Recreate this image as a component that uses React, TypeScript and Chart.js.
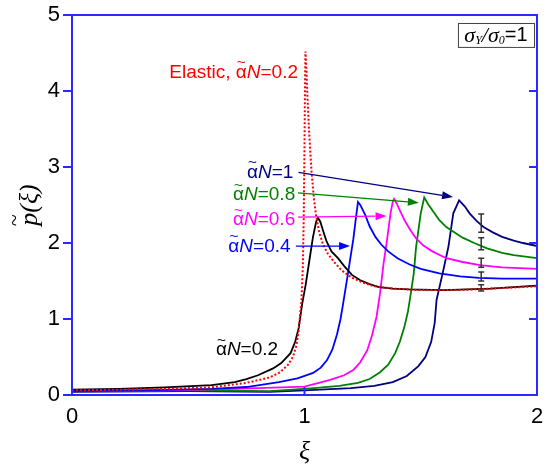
import React, { useEffect, useRef } from "react";
import { Chart, registerables } from "chart.js";

Chart.register(...registerables);

// ---------- data ----------
const xTickValues = [0, 1, 2];
const yTickValues = [0, 1, 2, 3, 4, 5];

const elasticX = [0, 0.2, 0.4, 0.6, 0.75, 0.85, 0.895, 0.93, 0.95, 0.965, 0.975, 0.987, 0.993, 0.997, 1.0, 1.002, 1.004, 1.008, 1.013, 1.02, 1.03, 1.04, 1.05, 1.065, 1.08, 1.1, 1.13, 1.16, 1.2, 1.25, 1.3, 1.38, 1.5, 1.65, 1.8, 2.0];
const elasticY = [0.06, 0.07, 0.08, 0.1, 0.16, 0.23, 0.3, 0.4, 0.5, 0.65, 0.85, 1.25, 1.7, 2.4, 3.3, 4.0, 4.52, 4.3, 3.9, 3.45, 2.95, 2.6, 2.35, 2.12, 1.98, 1.86, 1.74, 1.64, 1.55, 1.48, 1.43, 1.4, 1.38, 1.38, 1.4, 1.43];

const n02X = [0, 0.2, 0.4, 0.6, 0.7, 0.75, 0.8, 0.865, 0.9, 0.94, 0.96, 0.975, 0.99, 1.005, 1.02, 1.036, 1.05, 1.058, 1.068, 1.08, 1.095, 1.116, 1.144, 1.17, 1.204, 1.24, 1.28, 1.32, 1.38, 1.45, 1.6, 1.8, 2.0];
const n02Y = [0.07, 0.08, 0.1, 0.13, 0.17, 0.21, 0.26, 0.35, 0.42, 0.55, 0.7, 0.88, 1.2, 1.45, 1.75, 2.07, 2.28, 2.33, 2.28, 2.16, 2.02, 1.89, 1.8, 1.7, 1.58, 1.51, 1.46, 1.42, 1.4, 1.39, 1.38, 1.4, 1.44];

const n04X = [0, 0.3, 0.6, 0.75, 0.89, 0.97, 1.037, 1.07, 1.097, 1.12, 1.14, 1.155, 1.166, 1.187, 1.21, 1.222, 1.23, 1.24, 1.25, 1.261, 1.28, 1.305, 1.33, 1.36, 1.4, 1.45, 1.5, 1.58, 1.67, 1.75, 1.85, 2.0];
const n04Y = [0.05, 0.06, 0.08, 0.105, 0.17, 0.22, 0.29, 0.36, 0.46, 0.6, 0.8, 1.0, 1.2, 1.6, 2.05, 2.35, 2.54, 2.5, 2.44, 2.37, 2.22, 2.08, 1.98, 1.89, 1.8, 1.72, 1.66, 1.6, 1.56, 1.54, 1.53, 1.53];

const n06X = [0, 0.4, 0.7, 1.0, 1.11, 1.17, 1.21, 1.24, 1.27, 1.29, 1.31, 1.325, 1.34, 1.355, 1.37, 1.38, 1.385, 1.395, 1.41, 1.43, 1.455, 1.48, 1.51, 1.55, 1.61, 1.68, 1.755, 1.85, 2.0];
const n06Y = [0.05, 0.06, 0.08, 0.11, 0.2, 0.26, 0.33, 0.43, 0.59, 0.78, 1.03, 1.34, 1.73, 2.04, 2.39, 2.55, 2.58, 2.53, 2.43, 2.3, 2.17, 2.06, 1.97, 1.89, 1.8, 1.75, 1.71, 1.68, 1.66];

const n08X = [0, 0.5, 0.85, 0.95, 1.04, 1.15, 1.23, 1.28, 1.325, 1.36, 1.39, 1.41, 1.43, 1.445, 1.455, 1.47, 1.48, 1.5, 1.515, 1.53, 1.55, 1.58, 1.61, 1.68, 1.73, 1.785, 1.85, 1.9, 2.0];
const n08Y = [0.05, 0.06, 0.05, 0.07, 0.09, 0.12, 0.16, 0.21, 0.3, 0.4, 0.55, 0.7, 0.9, 1.1, 1.29, 1.6, 1.95, 2.39, 2.6, 2.52, 2.43, 2.3, 2.21, 2.07, 2.0, 1.93, 1.87, 1.84, 1.8];

const n10X = [0, 0.5, 0.85, 1.0, 1.2, 1.3, 1.38, 1.44, 1.49, 1.52, 1.545, 1.56, 1.568, 1.597, 1.619, 1.64, 1.665, 1.69, 1.71, 1.74, 1.77, 1.81, 1.85, 1.9, 1.94, 2.0];
const n10Y = [0.04, 0.05, 0.04, 0.06, 0.09, 0.12, 0.17, 0.25, 0.38, 0.5, 0.7, 0.95, 1.25, 1.64, 1.95, 2.39, 2.56, 2.48, 2.39, 2.29, 2.21, 2.14, 2.08, 2.03, 2.0, 1.96];

// error bars (x position, centres, half ranges) for αN = 1, 0.8, 0.6, 0.4, 0.2
const errX = [1.76, 1.76, 1.76, 1.76, 1.76];
const errCenter = [2.26, 1.99, 1.74, 1.56, 1.41];
const errHalf = [0.12, 0.08, 0.06, 0.06, 0.04];

// ---------- styles ----------
const AXIS = "#2a2aff";
const SANS = '"Liberation Sans", Arial, sans-serif';
const SERIF = '"Liberation Serif", "Times New Roman", serif';

const seriesList = [
  { name: "Elastic", xs: elasticX, ys: elasticY, color: "#ff0000", dash: [2, 2] },
  { name: "0.2", xs: n02X, ys: n02Y, color: "#000000", dash: [] },
  { name: "0.4", xs: n04X, ys: n04Y, color: "#0000ff", dash: [] },
  { name: "0.6", xs: n06X, ys: n06Y, color: "#ff00ff", dash: [] },
  { name: "0.8", xs: n08X, ys: n08Y, color: "#008000", dash: [] },
  { name: "1", xs: n10X, ys: n10Y, color: "#000080", dash: [] },
];

type Seg = { t: string; italic?: boolean; tilde?: boolean };
const alphaN = (v: string): Seg[] => [{ t: "α", tilde: true }, { t: "N", italic: true }, { t: "=" + v }];

const labels = [
  { segs: [{ t: "Elastic, " }, ...alphaN("0.2")], color: "#ff0000", x: 0.972, y: 4.24, align: "right" },
  { segs: alphaN("1"), color: "#000080", x: 0.952, y: 2.93, align: "right" },
  { segs: alphaN("0.8"), color: "#008000", x: 0.96, y: 2.63, align: "right" },
  { segs: alphaN("0.6"), color: "#ff00ff", x: 0.96, y: 2.30, align: "right" },
  { segs: alphaN("0.4"), color: "#0000ff", x: 0.94, y: 1.95, align: "right" },
  { segs: alphaN("0.2"), color: "#000000", x: 0.619, y: 0.59, align: "left" },
];

const arrows = [
  { from: [0.974, 2.93], to: [1.639, 2.605], color: "#000080" },
  { from: [0.972, 2.66], to: [1.492, 2.53], color: "#008000" },
  { from: [0.972, 2.34], to: [1.353, 2.355], color: "#ff00ff" },
  { from: [0.963, 1.96], to: [1.196, 1.96], color: "#0000ff" },
];

const sigmaBox = { x1: 1.66, x2: 1.987, y1: 4.895, y2: 4.58 };

function drawSegs(ctx: CanvasRenderingContext2D, segs: Seg[], x: number, y: number, align: string, color: string, size: number) {
  const fontOf = (s: Seg) => `${s.italic ? "italic " : ""}${size}px ${SANS}`;
  let total = 0;
  const widths = segs.map((s) => {
    ctx.font = fontOf(s);
    const w = ctx.measureText(s.t).width;
    total += w;
    return w;
  });
  let cx = align === "right" ? x - total : align === "center" ? x - total / 2 : x;
  ctx.fillStyle = color;
  ctx.textBaseline = "middle";
  ctx.textAlign = "left";
  segs.forEach((s, i) => {
    ctx.font = fontOf(s);
    ctx.fillText(s.t, cx, y);
    if (s.tilde) {
      ctx.font = `${size * 0.8}px ${SANS}`;
      const tw = ctx.measureText("~").width;
      ctx.fillText("~", cx + widths[i] / 2 - tw / 2, y - size * 0.5);
    }
    cx += widths[i];
  });
}

const overlayPlugin = {
  id: "overlay",
  afterDatasetsDraw(chart: any) {
    const { ctx, chartArea: a, scales } = chart;
    const xs = scales.x;
    const ys = scales.y;
    const X = (v: number) => xs.getPixelForValue(v);
    const Y = (v: number) => ys.getPixelForValue(v);
    ctx.save();

    // error bars
    ctx.strokeStyle = "#333333";
    ctx.lineWidth = 1.5;
    errX.forEach((ex, i) => {
      const px = X(ex);
      const top = Y(errCenter[i] + errHalf[i]);
      const bot = Y(errCenter[i] - errHalf[i]);
      ctx.beginPath();
      ctx.moveTo(px, top); ctx.lineTo(px, bot);
      ctx.moveTo(px - 3, top); ctx.lineTo(px + 3, top);
      ctx.moveTo(px - 3, bot); ctx.lineTo(px + 3, bot);
      ctx.stroke();
    });

    // arrows
    arrows.forEach((ar) => {
      const x0 = X(ar.from[0]), y0 = Y(ar.from[1]);
      const x1 = X(ar.to[0]), y1 = Y(ar.to[1]);
      const ang = Math.atan2(y1 - y0, x1 - x0);
      const L = 11, W = 4;
      const bx = x1 - L * Math.cos(ang), by = y1 - L * Math.sin(ang);
      ctx.strokeStyle = ar.color;
      ctx.fillStyle = ar.color;
      ctx.lineWidth = 1.3;
      ctx.beginPath();
      ctx.moveTo(x0, y0); ctx.lineTo(bx, by);
      ctx.stroke();
      ctx.beginPath();
      ctx.moveTo(x1, y1);
      ctx.lineTo(bx + W * Math.sin(ang), by - W * Math.cos(ang));
      ctx.lineTo(bx - W * Math.sin(ang), by + W * Math.cos(ang));
      ctx.closePath();
      ctx.fill();
    });

    // labels
    labels.forEach((lb) => drawSegs(ctx, lb.segs as Seg[], X(lb.x), Y(lb.y), lb.align, lb.color, 19));

    // sigma box
    const bx1 = X(sigmaBox.x1), bx2 = X(sigmaBox.x2), by1 = Y(sigmaBox.y1), by2 = Y(sigmaBox.y2);
    ctx.strokeStyle = "#444444";
    ctx.lineWidth = 1;
    ctx.strokeRect(bx1 + 0.5, by1 + 0.5, bx2 - bx1, by2 - by1);
    const parts = [
      { t: "σ", f: `italic 22px ${SERIF}`, dy: 0 },
      { t: "Y", f: `italic 12px ${SERIF}`, dy: 5 },
      { t: "/", f: `italic 22px ${SERIF}`, dy: 0 },
      { t: "σ", f: `italic 22px ${SERIF}`, dy: 0 },
      { t: "0", f: `italic 12px ${SERIF}`, dy: 5 },
      { t: "=1", f: `20px ${SANS}`, dy: 0 },
    ];
    let tot = 0;
    const pw = parts.map((p) => { ctx.font = p.f; const w = ctx.measureText(p.t).width; tot += w; return w; });
    let cx = (bx1 + bx2) / 2 - tot / 2;
    const cy = (by1 + by2) / 2 + 1;
    ctx.fillStyle = "#000";
    ctx.textBaseline = "middle";
    ctx.textAlign = "left";
    parts.forEach((p, i) => { ctx.font = p.f; ctx.fillText(p.t, cx, cy + p.dy); cx += pw[i]; });

    // frame
    ctx.strokeStyle = AXIS;
    ctx.lineWidth = 2;
    ctx.strokeRect(a.left, a.top, a.right - a.left, a.bottom - a.top);
    ctx.beginPath();
    xTickValues.forEach((v) => { const px = X(v); ctx.moveTo(px, a.bottom); ctx.lineTo(px, a.bottom - 8); });
    yTickValues.forEach((v) => {
      const py = Y(v);
      ctx.moveTo(a.left - 9, py); ctx.lineTo(a.left, py);
      ctx.moveTo(a.right, py); ctx.lineTo(a.right - 8, py);
    });
    ctx.stroke();

    // axis titles
    ctx.fillStyle = "#000";
    ctx.textBaseline = "middle";
    ctx.textAlign = "center";
    ctx.font = `italic 26px ${SERIF}`;
    ctx.fillText("ξ", (a.left + a.right) / 2, 452);

    ctx.save();
    ctx.translate(30, (a.top + a.bottom) / 2);
    ctx.rotate(-Math.PI / 2);
    ctx.font = `italic 26px ${SERIF}`;
    const wp = ctx.measureText("p").width;
    const wr = ctx.measureText("(ξ)").width;
    const start = -(wp + wr) / 2;
    ctx.textAlign = "left";
    ctx.fillText("p", start, 0);
    ctx.fillText("(ξ)", start + wp, 0);
    ctx.font = `22px ${SERIF}`;
    const tw = ctx.measureText("~").width;
    ctx.fillText("~", start + wp / 2 - tw / 2 - 1, -15);
    ctx.restore();

    ctx.restore();
  },
};

export default function App() {
  const ref = useRef<HTMLCanvasElement | null>(null);
  useEffect(() => {
    if (!ref.current) return;
    const datasets = seriesList.map((s) => ({
      label: s.name,
      data: s.xs.map((x, i) => ({ x, y: s.ys[i] })),
      borderColor: s.color,
      backgroundColor: s.color,
      borderWidth: s.dash.length ? 2 : 1.8,
      borderDash: s.dash,
      pointRadius: 0,
      fill: false,
      tension: 0,
    }));
    const chart = new Chart(ref.current, {
      type: "line",
      data: { datasets },
      options: {
        animation: false,
        responsive: false,
        devicePixelRatio: 1,
        layout: { padding: 0 },
        plugins: { legend: { display: false }, tooltip: { enabled: false } },
        scales: {
          x: {
            type: "linear",
            min: 0,
            max: 2,
            afterFit: (s: any) => { s.height = 75; s.paddingLeft = 0; s.paddingRight = 8; },
            afterBuildTicks: (s: any) => { s.ticks = xTickValues.map((v) => ({ value: v })); },
            grid: { display: false, drawTicks: false },
            border: { display: false },
            ticks: { font: { family: SANS, size: 22 }, color: "#000", padding: 9, maxRotation: 0, autoSkip: false },
          },
          y: {
            type: "linear",
            min: 0,
            max: 5,
            afterFit: (s: any) => { s.width = 72; s.paddingTop = 15; s.paddingBottom = 0; },
            afterBuildTicks: (s: any) => { s.ticks = yTickValues.map((v) => ({ value: v })); },
            grid: { display: false, drawTicks: false },
            border: { display: false },
            ticks: { font: { family: SANS, size: 22 }, color: "#000", padding: 12 },
          },
        },
      },
      plugins: [overlayPlugin],
    });
    return () => chart.destroy();
  }, []);
  return (
    <div style={{ position: "absolute", left: 0, top: 0, width: 545, height: 470, background: "#fff" }}>
      <canvas ref={ref} width={545} height={470} />
    </div>
  );
}
